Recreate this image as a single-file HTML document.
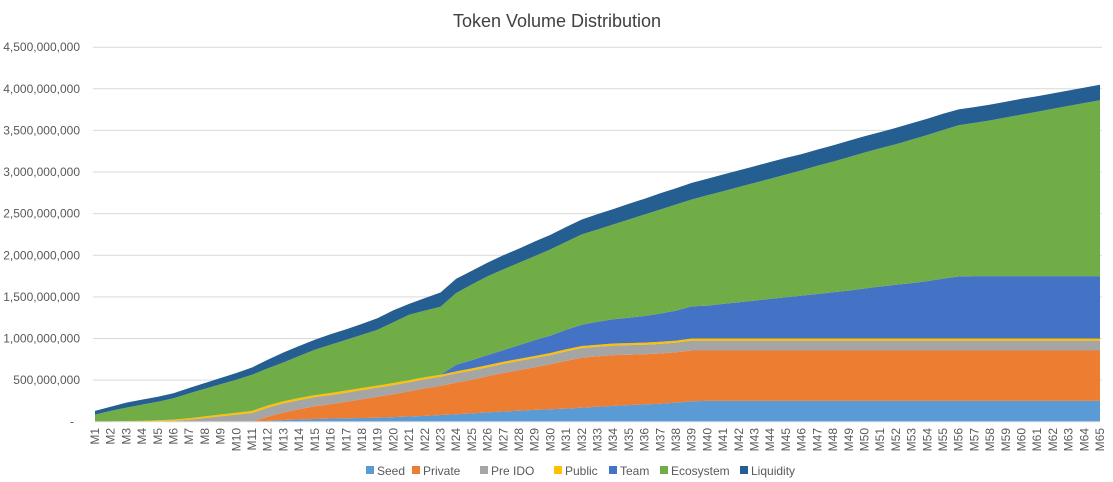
<!DOCTYPE html>
<html><head><meta charset="utf-8">
<style>
body{margin:0;background:#fff;font-family:"Liberation Sans",Arial,sans-serif;}
#wrap{position:relative;width:1113px;height:482px;overflow:hidden;}
</style></head>
<body>
<div id="wrap">
<svg id="chart" width="1113" height="482">
<text x="557" y="27" text-anchor="middle" font-size="18" fill="#404040">Token Volume Distribution</text>
</svg>
</div>
<script>
const categories = [];
for (let i = 1; i <= 65; i++) categories.push('M' + i);
const seriesNames = ['Seed','Private','Pre IDO','Public','Team','Ecosystem','Liquidity'];
const seriesColors = ['#5B9BD5','#ED7D31','#A5A5A5','#FFC000','#4472C4','#70AD47','#255E91'];
const seed = [0,0,0,0,0,0,0,0,0,0,0,10,20,28,33,38,42,45,48,55,62,70,80,90,100,112,122,132,142,150,158,170,180,190,200,208,215,230,245,250,250,250,250,250,250,250,250,250,250,250,250,250,250,250,250,250,250,250,250,250,250,250,250,250,250];
const privateSale = [0,0,0,0,0,0,0,0,0,0,0,50,90,122,152,172,198,225,252,275,303,330,350,380,405,433,463,488,513,540,572,600,605,610,605,602,605,605,610,605,605,605,605,605,605,605,605,605,605,605,605,605,605,605,605,605,605,605,605,605,605,605,605,605,605];
const preIdo = [0,0,0,0,5,10,25,45,65,85,105,110,110,110,110,110,110,110,110,110,110,110,110,110,110,110,110,110,110,110,115,115,115,115,115,115,115,115,120,120,120,120,120,120,120,120,120,120,120,120,120,120,120,120,120,120,120,120,120,120,120,120,120,120,120];
const publicSale = [0,3,8,10,12,15,17,19,21,23,25,25,25,25,25,25,25,25,25,25,25,25,25,25,25,25,25,25,25,25,25,25,25,25,25,25,25,25,25,25,25,25,25,25,25,25,25,25,25,25,25,25,25,25,25,25,25,25,25,25,25,25,25,25,25];
const team = [0,0,0,0,0,0,0,0,0,0,0,0,0,0,0,0,0,0,0,0,0,0,0,80,100,120,140,165,190,210,235,255,275,290,305,320,340,360,385,395,415,435,455,475,495,515,535,555,575,600,625,645,665,690,720,745,750,750,750,750,750,750,750,750,750];
const ecosystem = [85,127,162,195,223,257,298,331,364,397,433,445,466,505,544,580,609,640,670,730,786,800,817,862,910,947,970,990,1010,1035,1055,1085,1110,1140,1180,1220,1250,1275,1285,1325,1355,1385,1415,1445,1475,1505,1540,1570,1605,1635,1660,1690,1725,1755,1785,1818,1840,1870,1905,1940,1975,2010,2045,2080,2113];
const liquidity = [45,50,59,60,60,60,65,70,75,80,88,105,120,120,120,125,126,130,140,145,130,150,170,170,165,165,170,170,175,175,180,180,185,185,190,190,195,195,200,200,200,200,200,200,200,195,195,195,195,195,195,195,195,195,195,190,190,190,190,190,185,185,185,185,185];
const yTicks = [0,500,1000,1500,2000,2500,3000,3500,4000,4500];
const yTickLabels = ['-','500,000,000','1,000,000,000','1,500,000,000','2,000,000,000','2,500,000,000','3,000,000,000','3,500,000,000','4,000,000,000','4,500,000,000'];

const NS = 'http://www.w3.org/2000/svg';
const svg = document.getElementById('chart');
const X0 = 95, X1 = 1100, Y0 = 421.7, YTOP = 47.2, YMAX = 4500;
const xs = i => X0 + (X1 - X0) * i / (categories.length - 1);
const ys = v => Y0 - (Y0 - YTOP) * v / YMAX;
function mk(tag, attrs){const e=document.createElementNS(NS,tag);for(const k in attrs)e.setAttribute(k,attrs[k]);return e;}

// gridlines & y labels
yTicks.forEach((t, i) => {
  const y = ys(t);
  if (i > 0) {
    const g = mk('line',{x1:X0-2,x2:X1+2,y1:y,y2:y,stroke:'#d9d9d9','stroke-width':1});
    
    
    svg.appendChild(g);
  }
  const lb = mk('text',{x: i===0?74:80, y:y+4,'text-anchor':'end','font-size':12,fill:'#595959'});
  lb.textContent = yTickLabels[i];
  
  
  svg.appendChild(lb);
});

// stacked areas
const series = [seed, privateSale, preIdo, publicSale, team, ecosystem, liquidity];
let base = categories.map(() => 0);
series.forEach((s, si) => {
  const top = base.map((b, i) => b + s[i]);
  let d = '';
  top.forEach((v, i) => { d += (i ? 'L' : 'M') + xs(i).toFixed(1) + ',' + ys(v).toFixed(1); });
  for (let i = base.length - 1; i >= 0; i--) d += 'L' + xs(i).toFixed(1) + ',' + ys(base[i]).toFixed(1);
  d += 'Z';
  const p = mk('path',{d:d,fill:seriesColors[si]});
  
  
  svg.appendChild(p);
  base = top;
});

// axis line
const ax = mk('line',{x1:X0,x2:X1,y1:Y0,y2:Y0,stroke:'#d9d9d9','stroke-width':1});


svg.appendChild(ax);

// x labels
categories.forEach((c, i) => {
  const x = xs(i) + 4;
  const t = mk('text',{x:x,y:428,'text-anchor':'end','font-size':12,fill:'#595959',transform:'rotate(-90 '+x+' 428)'});
  t.textContent = c;
  
  
  svg.appendChild(t);
});

// legend
const legendX = [366, 412, 480, 554, 609, 660, 740];
seriesNames.forEach((n, i) => {
  const g = mk('g',{});
  
  
  g.appendChild(mk('rect',{x:legendX[i],y:466,width:8,height:8,fill:seriesColors[i]}));
  const t = mk('text',{x:legendX[i]+11,y:475,'font-size':12,fill:'#595959'});
  t.textContent = n;
  g.appendChild(t);
  svg.appendChild(g);
});
</script>
</body></html>
